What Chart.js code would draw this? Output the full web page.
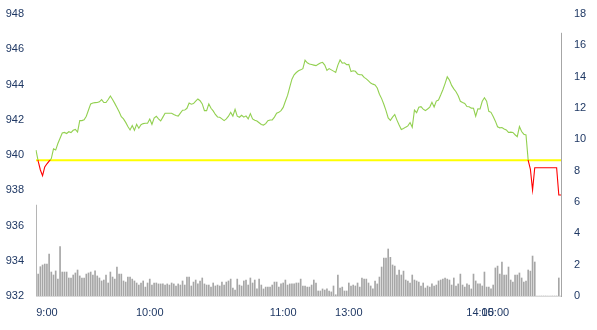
<!DOCTYPE html>
<html>
<head>
<meta charset="utf-8">
<script src="https://cdn.jsdelivr.net/npm/chart.js@4"></script>
<style>
  html, body { margin: 0; padding: 0; background: #fff; }
  canvas { display: block; }
</style>
</head>
<body>
<canvas id="myChart" width="597" height="330"></canvas>
<script>
// tick labels on the time axis and the point index each one sits on
const tickTimes = ['9:00', '10:00', '11:00', '13:00', '14:00', '15:00'];
const tickIndex = [5, 52, 113, 143, 203, 210];

const prevClose = 939.7;

// price per minute
const price = [
    940.28, 939.65, 939.15, 938.83, 939.32, 939.50, 939.65, 939.80, 940.35, 940.28,
    940.65, 940.95, 941.25, 941.28, 941.22, 941.32, 941.27, 941.40, 941.45, 941.30,
    941.95, 941.95, 942.00, 942.20, 942.55, 942.90, 942.95, 942.97, 942.98, 943.02,
    943.14, 942.98, 942.98, 943.15, 943.35, 943.15, 942.93, 942.70, 942.45, 942.17,
    942.05, 941.85, 941.62, 941.42, 941.67, 941.40, 941.74, 941.52, 941.72, 941.78,
    941.80, 941.80, 942.04, 941.74, 942.10, 942.20, 942.05, 941.93, 942.15, 942.37,
    942.37, 942.37, 942.37, 942.30, 942.24, 942.21, 942.38, 942.54, 942.55, 942.65,
    942.95, 942.88, 942.92, 943.05, 943.18, 943.08, 942.90, 942.52, 942.52, 942.90,
    942.65, 942.50, 942.30, 942.16, 942.14, 942.05, 941.95, 942.05, 942.20, 942.42,
    942.21, 942.59, 942.20, 942.14, 942.25, 942.15, 942.22, 942.05, 942.35, 942.05,
    941.97, 941.93, 941.83, 941.73, 941.70, 941.78, 941.95, 941.99, 941.99, 942.15,
    942.37, 942.42, 942.52, 942.70, 943.05, 943.38, 943.85, 944.30, 944.55, 944.68,
    944.78, 944.83, 944.90, 945.38, 945.23, 945.16, 945.13, 945.10, 945.07, 945.15,
    945.22, 945.26, 945.10, 944.80, 944.90, 944.83, 944.76, 944.69, 945.10, 945.39,
    945.21, 945.23, 945.12, 945.14, 944.73, 944.78, 944.75, 944.60, 944.55, 944.55,
    944.40, 944.32, 944.20, 944.08, 944.02, 943.98, 943.80, 943.45, 943.20, 942.88,
    942.52, 942.10, 941.97, 942.15, 942.30, 941.98, 941.70, 941.45, 941.50, 941.58,
    941.65, 941.84, 941.57, 942.55, 942.40, 942.71, 942.74, 942.60, 942.52, 942.61,
    942.72, 942.99, 942.72, 943.06, 943.12, 943.40, 943.70, 944.05, 944.44, 944.25,
    943.95, 943.75, 943.59, 943.36, 943.05, 942.98, 942.92, 942.75, 942.74, 942.66,
    942.65, 942.20, 942.62, 942.61, 943.05, 943.25, 943.05, 942.48, 942.42, 942.18,
    941.92, 941.60, 941.54, 941.56, 941.48, 941.42, 941.28, 941.30, 941.28, 941.15,
    941.04, 941.61, 941.33, 941.18, 941.14, 939.70, 939.20, 938.01, 939.28, 939.28,
    939.28, 939.28, 939.28, 939.28, 939.28, 939.28, 939.28, 939.28, 939.28, 937.73,
    937.73
];

// volume per minute (right axis)
const volume = [
    5.80, 1.40, 1.87, 1.98, 2.04, 2.04, 2.68, 1.53, 1.34, 1.60,
    1.08, 3.15, 1.53, 1.53, 1.53, 1.15, 1.15, 1.34, 1.47, 1.66,
    1.28, 1.15, 1.15, 1.40, 1.47, 1.53, 1.34, 1.60, 1.28, 1.15,
    0.96, 1.02, 1.34, 0.83, 1.53, 1.21, 1.08, 1.85, 1.40, 1.40,
    0.96, 0.89, 1.21, 1.21, 1.08, 0.96, 0.83, 0.70, 0.83, 0.96,
    0.57, 0.83, 1.08, 0.70, 0.83, 0.83, 0.77, 0.77, 0.77, 0.70,
    0.77, 0.70, 0.83, 0.77, 0.64, 0.77, 0.70, 0.96, 0.70, 1.21,
    1.21, 0.64, 0.89, 1.02, 0.77, 0.96, 1.15, 0.77, 0.70, 0.70,
    0.57, 0.83, 0.64, 0.70, 0.64, 0.89, 0.70, 0.89, 0.96, 1.08,
    0.51, 0.38, 1.08, 0.70, 0.64, 0.96, 1.02, 0.70, 1.15, 0.83,
    1.02, 0.45, 1.08, 0.70, 0.45, 0.57, 0.57, 0.57, 0.70, 0.89,
    0.89, 0.57, 0.77, 0.83, 1.02, 0.70, 0.77, 0.77, 0.77, 0.83,
    0.83, 1.08, 0.64, 0.64, 0.57, 0.57, 0.70, 1.02, 0.83, 0.32,
    0.32, 0.45, 0.38, 0.45, 0.32, 0.26, 0.64, 0.08, 1.34, 0.51,
    0.57, 0.32, 0.32, 0.83, 0.64, 0.70, 0.64, 0.83, 0.57, 1.15,
    1.08, 1.08, 0.83, 0.64, 0.45, 0.96, 0.77, 1.21, 1.85, 2.42,
    2.42, 3.00, 2.47, 1.98, 1.91, 1.34, 1.66, 1.34, 1.59, 1.02,
    0.96, 0.83, 1.34, 1.02, 0.96, 0.89, 0.64, 0.83, 0.51, 0.64,
    0.57, 0.77, 0.64, 0.70, 0.96, 1.02, 1.08, 1.15, 1.08, 1.02,
    0.70, 1.15, 0.64, 0.77, 1.40, 0.70, 0.57, 0.77, 0.70, 0.45,
    1.40, 0.96, 0.77, 0.77, 0.64, 1.53, 0.57, 0.57, 0.45, 0.70,
    1.79, 1.91, 1.40, 2.17, 1.34, 1.34, 1.85, 1.02, 0.89, 1.34,
    1.34, 1.47, 1.15, 0.89, 0.96, 1.66, 1.59, 2.55, 2.17, 0,
    0, 0, 0, 0, 0, 0, 0, 0, 0, 1.15,
    0
];

const labels = price.map(() => '');
tickIndex.forEach((idx, k) => { labels[idx] = tickTimes[k]; });

const upColor = '#92D050';
const downColor = '#FF0000';
const axisLineTop = 16.8; // right axis line stops short of the top

function splitColor(context) {
    const chart = context.chart;
    const { chartArea, scales } = chart;
    if (!chartArea) return upColor;
    const y = scales.y.getPixelForValue(prevClose);
    let s = (y - chartArea.top) / (chartArea.bottom - chartArea.top);
    s = Math.min(Math.max(s, 0), 1);
    const g = chart.ctx.createLinearGradient(0, chartArea.top, 0, chartArea.bottom);
    g.addColorStop(0, upColor);
    g.addColorStop(s, upColor);
    g.addColorStop(s, downColor);
    g.addColorStop(1, downColor);
    return g;
}

const rightAxisLine = {
    id: 'rightAxisLine',
    afterDatasetsDraw(chart) {
        const { ctx, chartArea, scales } = chart;
        const top = scales.y1.getPixelForValue(axisLineTop);
        ctx.save();
        ctx.strokeStyle = '#A6A6A6';
        ctx.lineWidth = 1;
        ctx.beginPath();
        ctx.moveTo(chartArea.right + 0.5, top);
        ctx.lineTo(chartArea.right + 0.5, chartArea.bottom + 1);
        ctx.stroke();
        ctx.restore();
    }
};

const tickFont = { family: 'Liberation Sans', size: 11 };
const tickColor = '#1F3864';

function fixSide(scale) {
    scale.width = 36;
    scale.paddingTop = 0;
    scale.paddingBottom = 0;
}

const ctx = document.getElementById('myChart').getContext('2d');
new Chart(ctx, {
    data: {
        labels: labels,
        datasets: [
            {
                type: 'line',
                data: price,
                yAxisID: 'y',
                borderColor: splitColor,
                borderWidth: 1.1,
                pointRadius: 0,
                tension: 0,
                order: 1
            },
            {
                type: 'line',
                data: price.map(() => prevClose),
                yAxisID: 'y',
                borderColor: '#FFFF00',
                borderWidth: 2,
                pointRadius: 0,
                order: 2
            },
            {
                type: 'bar',
                data: volume,
                yAxisID: 'y1',
                backgroundColor: '#A6A6A6',
                barThickness: 1,
                order: 3
            }
        ]
    },
    options: {
        responsive: false,
        animation: false,
        devicePixelRatio: 1,
        layout: { padding: { top: 14, left: 0, right: 0, bottom: 0 } },
        plugins: {
            legend: { display: false },
            tooltip: { enabled: false }
        },
        scales: {
            x: {
                type: 'category',
                offset: false,
                grid: { display: false, drawTicks: false },
                border: { display: true, color: '#D9D9D9' },
                ticks: {
                    autoSkip: false,
                    maxRotation: 0,
                    minRotation: 0,
                    padding: 10,
                    color: tickColor,
                    font: tickFont
                },
                afterFit(scale) { scale.height = 34; }
            },
            y: {
                position: 'left',
                min: 932,
                max: 948,
                grid: { display: false, drawTicks: false },
                border: { display: false },
                ticks: { stepSize: 2, padding: 12, color: tickColor, font: tickFont },
                afterFit: fixSide
            },
            y1: {
                position: 'right',
                min: 0,
                max: 18,
                grid: { display: false, drawTicks: false },
                border: { display: false },
                ticks: { stepSize: 2, padding: 13, color: tickColor, font: tickFont },
                afterFit: fixSide
            }
        }
    },
    plugins: [rightAxisLine]
});
</script>
</body>
</html>
